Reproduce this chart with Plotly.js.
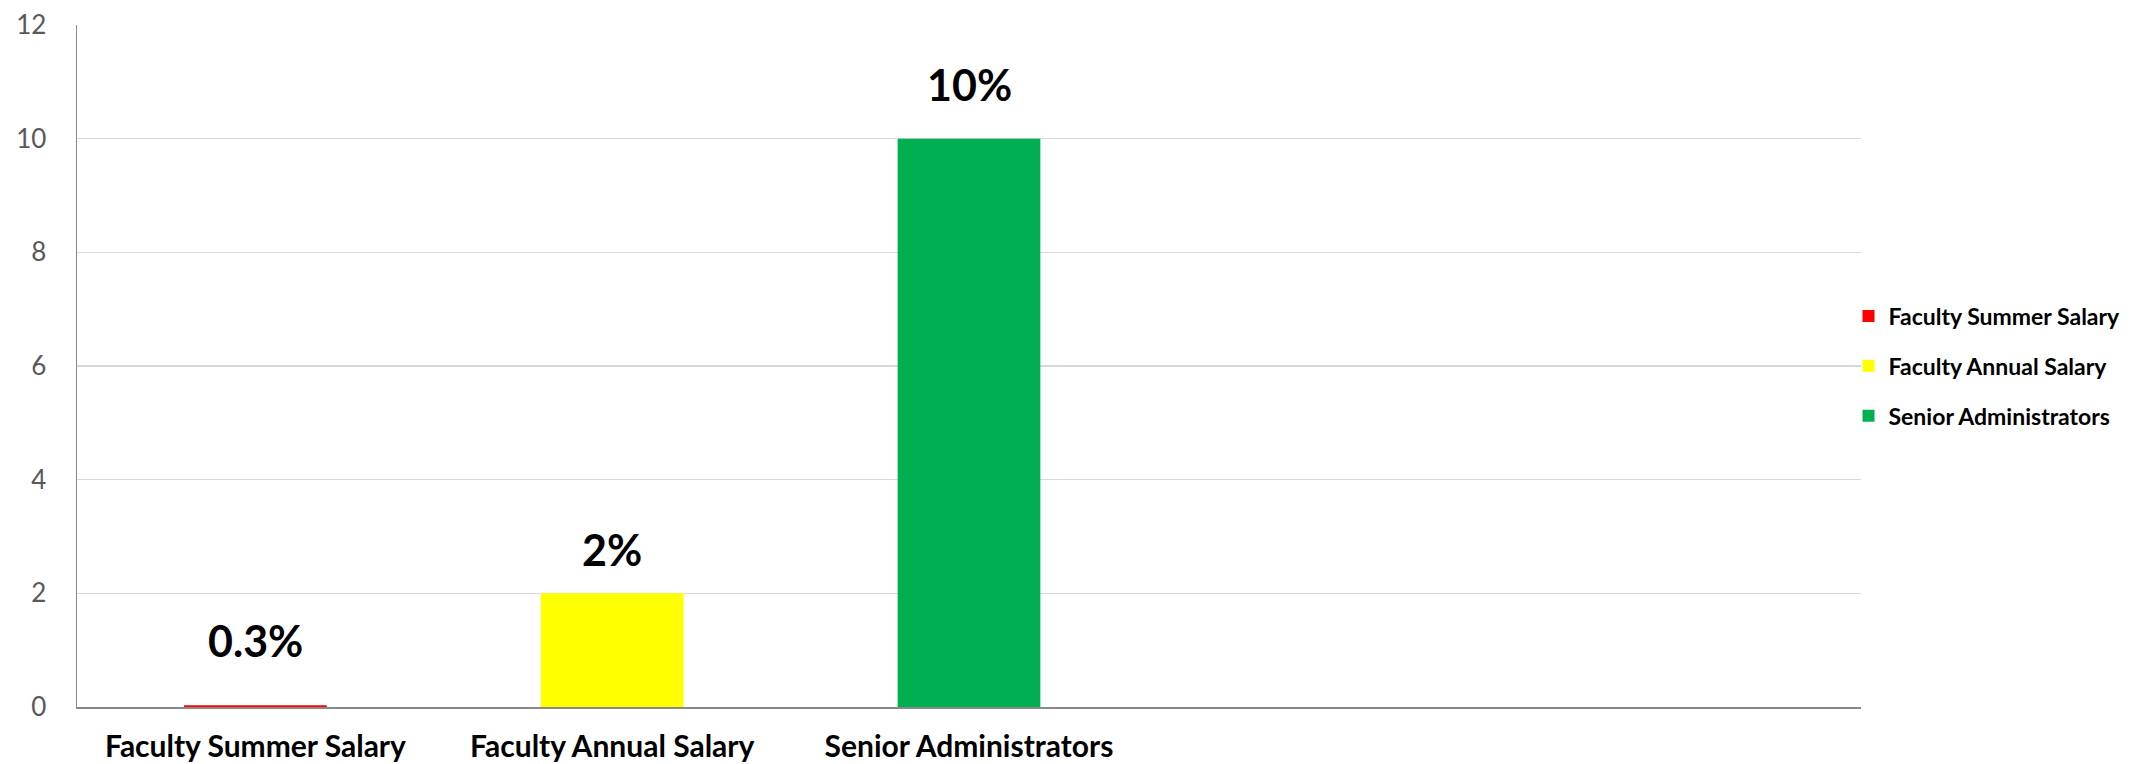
<!DOCTYPE html>
<html>
<head>
<meta charset="utf-8">
<script src="https://cdn.plot.ly/plotly-3.0.1.min.js"></script>
<style>
  html, body { margin: 0; padding: 0; background: #ffffff; }
  #chart { width: 2145px; height: 764px; }
</style>
</head>
<body>
<div id="chart"></div>
<script>
// ---- data ----
const categories = ["Faculty Summer Salary", "Faculty Annual Salary", "Senior Administrators"];
const values = [0.03, 2, 10];
const valueLabels = ["0.3%", "2%", "10%"];
const colors = ["#FF0000", "#FFFF00", "#00B050"];
const yTicks = [0, 2, 4, 6, 8, 10, 12];

// ---- style ----
const FONT = "Lato, 'Open Sans', sans-serif";
const labelShift = [65, 44, 54];

const traces = categories.map((c, i) => ({
  type: "bar",
  name: c,
  x: [c],
  y: [values[i]],
  width: 0.4,
  marker: { color: colors[i] },
  legendgroup: "g" + i,
  hoverinfo: "x+y"
}));

const annotations = categories.map((c, i) => ({
  x: c,
  y: values[i],
  xref: "x",
  yref: "y",
  text: valueLabels[i],
  showarrow: false,
  yanchor: "middle",
  yshift: labelShift[i],
  font: { family: FONT, size: 43, color: "#000000", weight: 700 }
}));

const layout = {
  width: 2145,
  height: 764,
  paper_bgcolor: "#ffffff",
  plot_bgcolor: "#ffffff",
  margin: { l: 77, r: 284, t: 25, b: 57 },
  barmode: "overlay",
  showlegend: true,
  legend: {
    x: 0.993,
    xanchor: "left",
    y: 0.5,
    yanchor: "middle",
    font: { family: FONT, size: 23, color: "#000000", weight: 700 },
    tracegroupgap: 17,
    traceorder: "grouped",
    itemwidth: 30,
    borderwidth: 0,
    bgcolor: "rgba(0,0,0,0)"
  },
  xaxis: {
    type: "category",
    categoryorder: "array",
    categoryarray: categories,
    range: [-0.5, 4.5],
    showgrid: false,
    showline: true,
    linecolor: "#898989",
    linewidth: 1.5,
    ticks: "outside",
    ticklen: 12,
    tickcolor: "rgba(0,0,0,0)",
    tickfont: { family: FONT, size: 30, color: "#000000", weight: 700 },
    zeroline: false,
    fixedrange: true
  },
  yaxis: {
    range: [0, 12],
    tickvals: yTicks,
    ticktext: yTicks.map(String),
    showgrid: true,
    gridcolor: "#d9d9d9",
    gridwidth: 1.5,
    showline: true,
    linecolor: "#898989",
    linewidth: 1.5,
    ticks: "outside",
    ticklen: 24,
    tickcolor: "rgba(0,0,0,0)",
    tickfont: { family: FONT, size: 26, color: "#595959" },
    zeroline: false,
    fixedrange: true
  },
  annotations: annotations
};

Plotly.newPlot("chart", traces, layout, { displayModeBar: false, staticPlot: true });
</script>
</body>
</html>
